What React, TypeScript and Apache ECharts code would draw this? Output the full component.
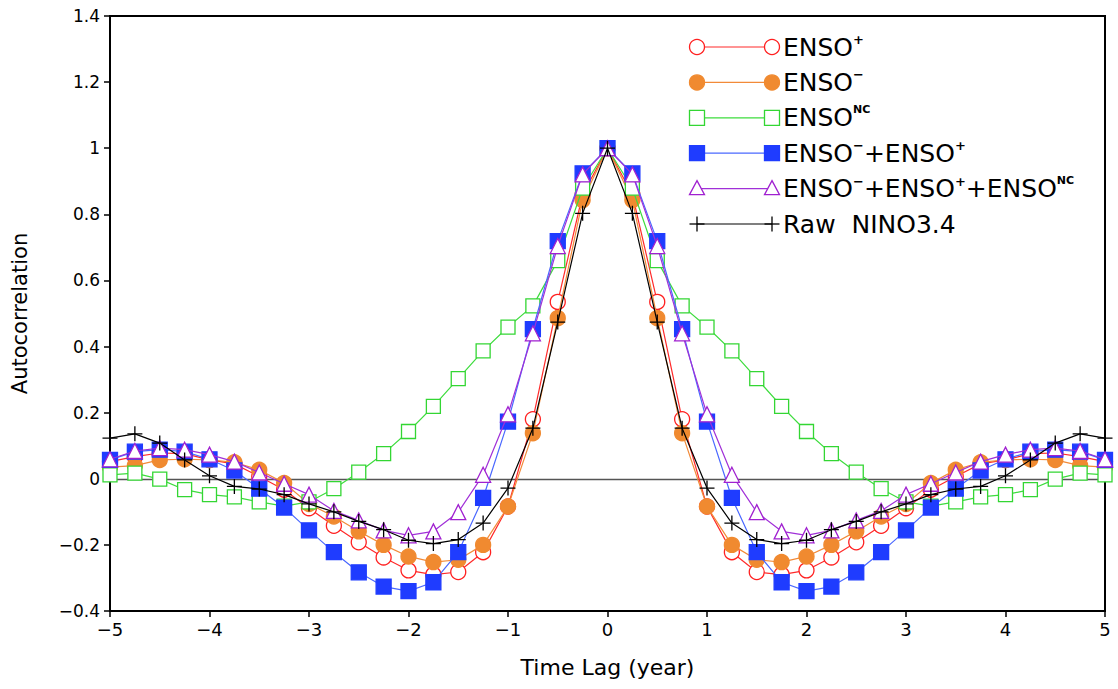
import React, { useEffect, useRef } from "react";
import * as echarts from "echarts";

const lags = [
  -5, -4.75, -4.5, -4.25, -4, -3.75, -3.5, -3.25, -3, -2.75, -2.5, -2.25, -2, -1.75, -1.5, -1.25, -1, -0.75, -0.5, -0.25,
  0, 0.25, 0.5, 0.75, 1, 1.25, 1.5, 1.75, 2, 2.25, 2.5, 2.75, 3, 3.25, 3.5, 3.75, 4, 4.25, 4.5, 4.75, 5,
];

const ensoPos = [
  0.052, 0.067, 0.078, 0.076, 0.057, 0.045, 0.007, -0.033, -0.089, -0.142, -0.192, -0.238, -0.277, -0.29, -0.282, -0.222, -0.084, 0.18, 0.535, 0.86,
  1.0, 0.86, 0.535, 0.18, -0.084, -0.222, -0.282, -0.29, -0.277, -0.238, -0.192, -0.142, -0.089, -0.033, 0.007, 0.045, 0.057, 0.076, 0.078, 0.067, 0.052,
];

const ensoNeg = [
  0.035, 0.04, 0.057, 0.059, 0.057, 0.05, 0.027, -0.013, -0.076, -0.114, -0.159, -0.2, -0.235, -0.252, -0.245, -0.2, -0.084, 0.138, 0.486, 0.843,
  1.0, 0.843, 0.486, 0.138, -0.084, -0.2, -0.245, -0.252, -0.235, -0.2, -0.159, -0.114, -0.076, -0.013, 0.027, 0.05, 0.057, 0.059, 0.057, 0.04, 0.035,
];

const ensoNC = [
  0.012, 0.017, -0.001, -0.033, -0.048, -0.055, -0.07, -0.083, -0.07, -0.03, 0.02, 0.076, 0.143, 0.219, 0.303, 0.387, 0.459, 0.523, 0.66, 0.879,
  1.0, 0.879, 0.66, 0.523, 0.459, 0.387, 0.303, 0.219, 0.143, 0.076, 0.02, -0.03, -0.07, -0.083, -0.07, -0.055, -0.048, -0.033, -0.001, 0.017, 0.012,
];

const ensoNegPos = [
  0.057, 0.082, 0.088, 0.082, 0.059, 0.025, -0.03, -0.087, -0.156, -0.222, -0.283, -0.326, -0.34, -0.313, -0.222, -0.058, 0.173, 0.453, 0.719, 0.924,
  1.0, 0.924, 0.719, 0.453, 0.173, -0.058, -0.222, -0.313, -0.34, -0.326, -0.283, -0.222, -0.156, -0.087, -0.03, 0.025, 0.059, 0.082, 0.088, 0.082, 0.057,
];

const ensoAll = [
  0.059, 0.084, 0.093, 0.088, 0.073, 0.052, 0.019, -0.015, -0.048, -0.097, -0.126, -0.156, -0.171, -0.159, -0.101, 0.012, 0.195, 0.44, 0.704, 0.921,
  1.0, 0.921, 0.704, 0.44, 0.195, 0.012, -0.101, -0.159, -0.171, -0.156, -0.126, -0.097, -0.048, -0.015, 0.019, 0.052, 0.073, 0.088, 0.093, 0.084, 0.059,
];

const rawNino = [
  0.123, 0.136, 0.108, 0.057, 0.009, -0.023, -0.031, -0.048, -0.076, -0.1, -0.129, -0.154, -0.186, -0.196, -0.184, -0.134, -0.028, 0.153, 0.474, 0.803,
  1.0, 0.803, 0.474, 0.153, -0.028, -0.134, -0.184, -0.196, -0.186, -0.154, -0.129, -0.1, -0.076, -0.048, -0.031, -0.023, 0.009, 0.057, 0.108, 0.136, 0.123,
];

const FONT = "DejaVu Sans";
const PLUS = "path://M5,0L5,10M0,5L10,5";

type Spec = {
  name: string;
  label: string;
  values: number[];
  line: string;
  symbol: string;
  size: number;
  fill: string;
  border: string;
};

const specs: Spec[] = [
  { name: "ENSO+", label: "{m|ENSO}{p|+}", values: ensoPos, line: "#ff2a2a", symbol: "circle", size: 15, fill: "#ffffff", border: "#ff2020" },
  { name: "ENSO-", label: "{m|ENSO}{p|−}", values: ensoNeg, line: "#f28a38", symbol: "circle", size: 15, fill: "#f08a30", border: "#f08a30" },
  { name: "ENSO NC", label: "{m|ENSO}{n|NC}", values: ensoNC, line: "#3ddc3d", symbol: "rect", size: 14, fill: "#ffffff", border: "#33d633" },
  { name: "ENSO- + ENSO+", label: "{m|ENSO}{p|−}{m|+ENSO}{p|+}", values: ensoNegPos, line: "#4a68ff", symbol: "rect", size: 15, fill: "#1f3cff", border: "#1f3cff" },
  { name: "ENSO- + ENSO+ + ENSO NC", label: "{m|ENSO}{p|−}{m|+ENSO}{p|+}{m|+ENSO}{n|NC}", values: ensoAll, line: "#a030d8", symbol: "triangle", size: 15, fill: "#ffffff", border: "#a020d0" },
  { name: "Raw NINO3.4", label: "{m|Raw  NINO3.4}", values: rawNino, line: "#000000", symbol: PLUS, size: 15, fill: "none", border: "#000000" },
];

function legendMarker(s: Spec, cx: number, cy: number): any {
  const style = { fill: s.fill === "none" ? "none" : s.fill, stroke: s.border, lineWidth: 1.3 };
  if (s.symbol === "circle") return { type: "circle", shape: { cx, cy, r: 7.5 }, style };
  if (s.symbol === "rect") return { type: "rect", shape: { x: cx - 7.5, y: cy - 7.5, width: 15, height: 15 }, style };
  if (s.symbol === "triangle")
    return { type: "polygon", shape: { points: [[cx, cy - 8], [cx + 7.5, cy + 6], [cx - 7.5, cy + 6]] }, style };
  return {
    type: "group",
    children: [
      { type: "line", shape: { x1: cx - 7.5, y1: cy, x2: cx + 7.5, y2: cy }, style: { stroke: s.border, lineWidth: 1.3 } },
      { type: "line", shape: { x1: cx, y1: cy - 7.5, x2: cx, y2: cy + 7.5 }, style: { stroke: s.border, lineWidth: 1.3 } },
    ],
  };
}

export default function App() {
  const ref = useRef<HTMLDivElement>(null);
  useEffect(() => {
    if (!ref.current) return;
    const chart = echarts.init(ref.current, undefined, { renderer: "svg" });

    const series: any[] = specs.map((s, i) => ({
      name: s.name,
      type: "line",
      data: lags.map((x, k) => [x, s.values[k]]),
      symbol: s.symbol,
      symbolSize: s.size,
      showAllSymbol: true,
      lineStyle: { color: s.line, width: 1.2 },
      itemStyle: {
        color: s.fill === "none" ? "rgba(0,0,0,0)" : s.fill,
        borderColor: s.border,
        borderWidth: 1.3,
      },
      z: 3 + i,
      emphasis: { disabled: true },
      ...(i === 0
        ? {
            markLine: {
              silent: true,
              symbol: "none",
              label: { show: false },
              lineStyle: { color: "#555555", width: 1.3, type: "solid" },
              data: [{ yAxis: 0 }],
              z: 1,
            },
          }
        : {}),
    }));

    const legendX0 = 697;
    const legendX1 = 772;
    const legendY0 = 47;
    const legendDy = 35.4;
    const graphics: any[] = [];
    specs.forEach((s, i) => {
      const y = legendY0 + i * legendDy;
      graphics.push({ type: "line", shape: { x1: legendX0, y1: y, x2: legendX1, y2: y }, style: { stroke: s.line, lineWidth: 1.2 }, z: 10 });
      graphics.push({ ...legendMarker(s, legendX0, y), z: 11 });
      graphics.push({ ...legendMarker(s, legendX1, y), z: 11 });
      graphics.push({
        type: "text",
        x: 783,
        y: y,
        z: 11,
        style: {
          text: s.label,
          verticalAlign: "middle",
          fill: "#000",
          rich: {
            m: { fontSize: 25, fontFamily: FONT, fill: "#000", lineHeight: 28 },
            p: { fontSize: 13, fontFamily: FONT, fontWeight: "bold", fill: "#000", verticalAlign: "top", lineHeight: 28 },
            n: { fontSize: 11, fontFamily: FONT, fontWeight: "bold", fill: "#000", verticalAlign: "top", lineHeight: 28 },
          },
        },
      });
    });

    const fmt = (v: number) => {
      const r = Math.round(v * 10) / 10;
      return String(r).replace("-", "−");
    };

    chart.setOption({
      animation: false,
      grid: {
        left: 110,
        right: 13,
        top: 16,
        bottom: 78,
        show: true,
        borderColor: "#000",
        borderWidth: 2,
        backgroundColor: "transparent",
        containLabel: false,
        outerBoundsMode: "none",
      },
      xAxis: {
        type: "value",
        min: -5,
        max: 5,
        interval: 1,
        name: "Time Lag (year)",
        nameLocation: "middle",
        nameGap: 45,
        nameTextStyle: { fontFamily: FONT, fontSize: 22, color: "#000" },
        axisLine: { show: true, onZero: false, lineStyle: { color: "#000", width: 2 } },
        axisTick: { show: true, inside: false, length: 6, lineStyle: { color: "#000", width: 1.5 } },
        axisLabel: { formatter: fmt, fontFamily: FONT, fontSize: 18, color: "#000", margin: 9 },
        splitLine: { show: false },
      },
      yAxis: {
        type: "value",
        min: -0.4,
        max: 1.4,
        interval: 0.2,
        name: "Autocorrelation",
        nameLocation: "middle",
        nameGap: 80,
        nameRotate: 90,
        nameTextStyle: { fontFamily: FONT, fontSize: 21, color: "#000" },
        axisLine: { show: true, onZero: false, lineStyle: { color: "#000", width: 2 } },
        axisTick: { show: true, inside: false, length: 6, lineStyle: { color: "#000", width: 1.5 } },
        axisLabel: { formatter: fmt, fontFamily: FONT, fontSize: 17, color: "#000", margin: 10 },
        splitLine: { show: false },
      },
      series,
      graphic: graphics,
    });

    return () => chart.dispose();
  }, []);

  return <div ref={ref} style={{ position: "fixed", left: 0, top: 0, width: 1118, height: 689, background: "#fff" }} />;
}
